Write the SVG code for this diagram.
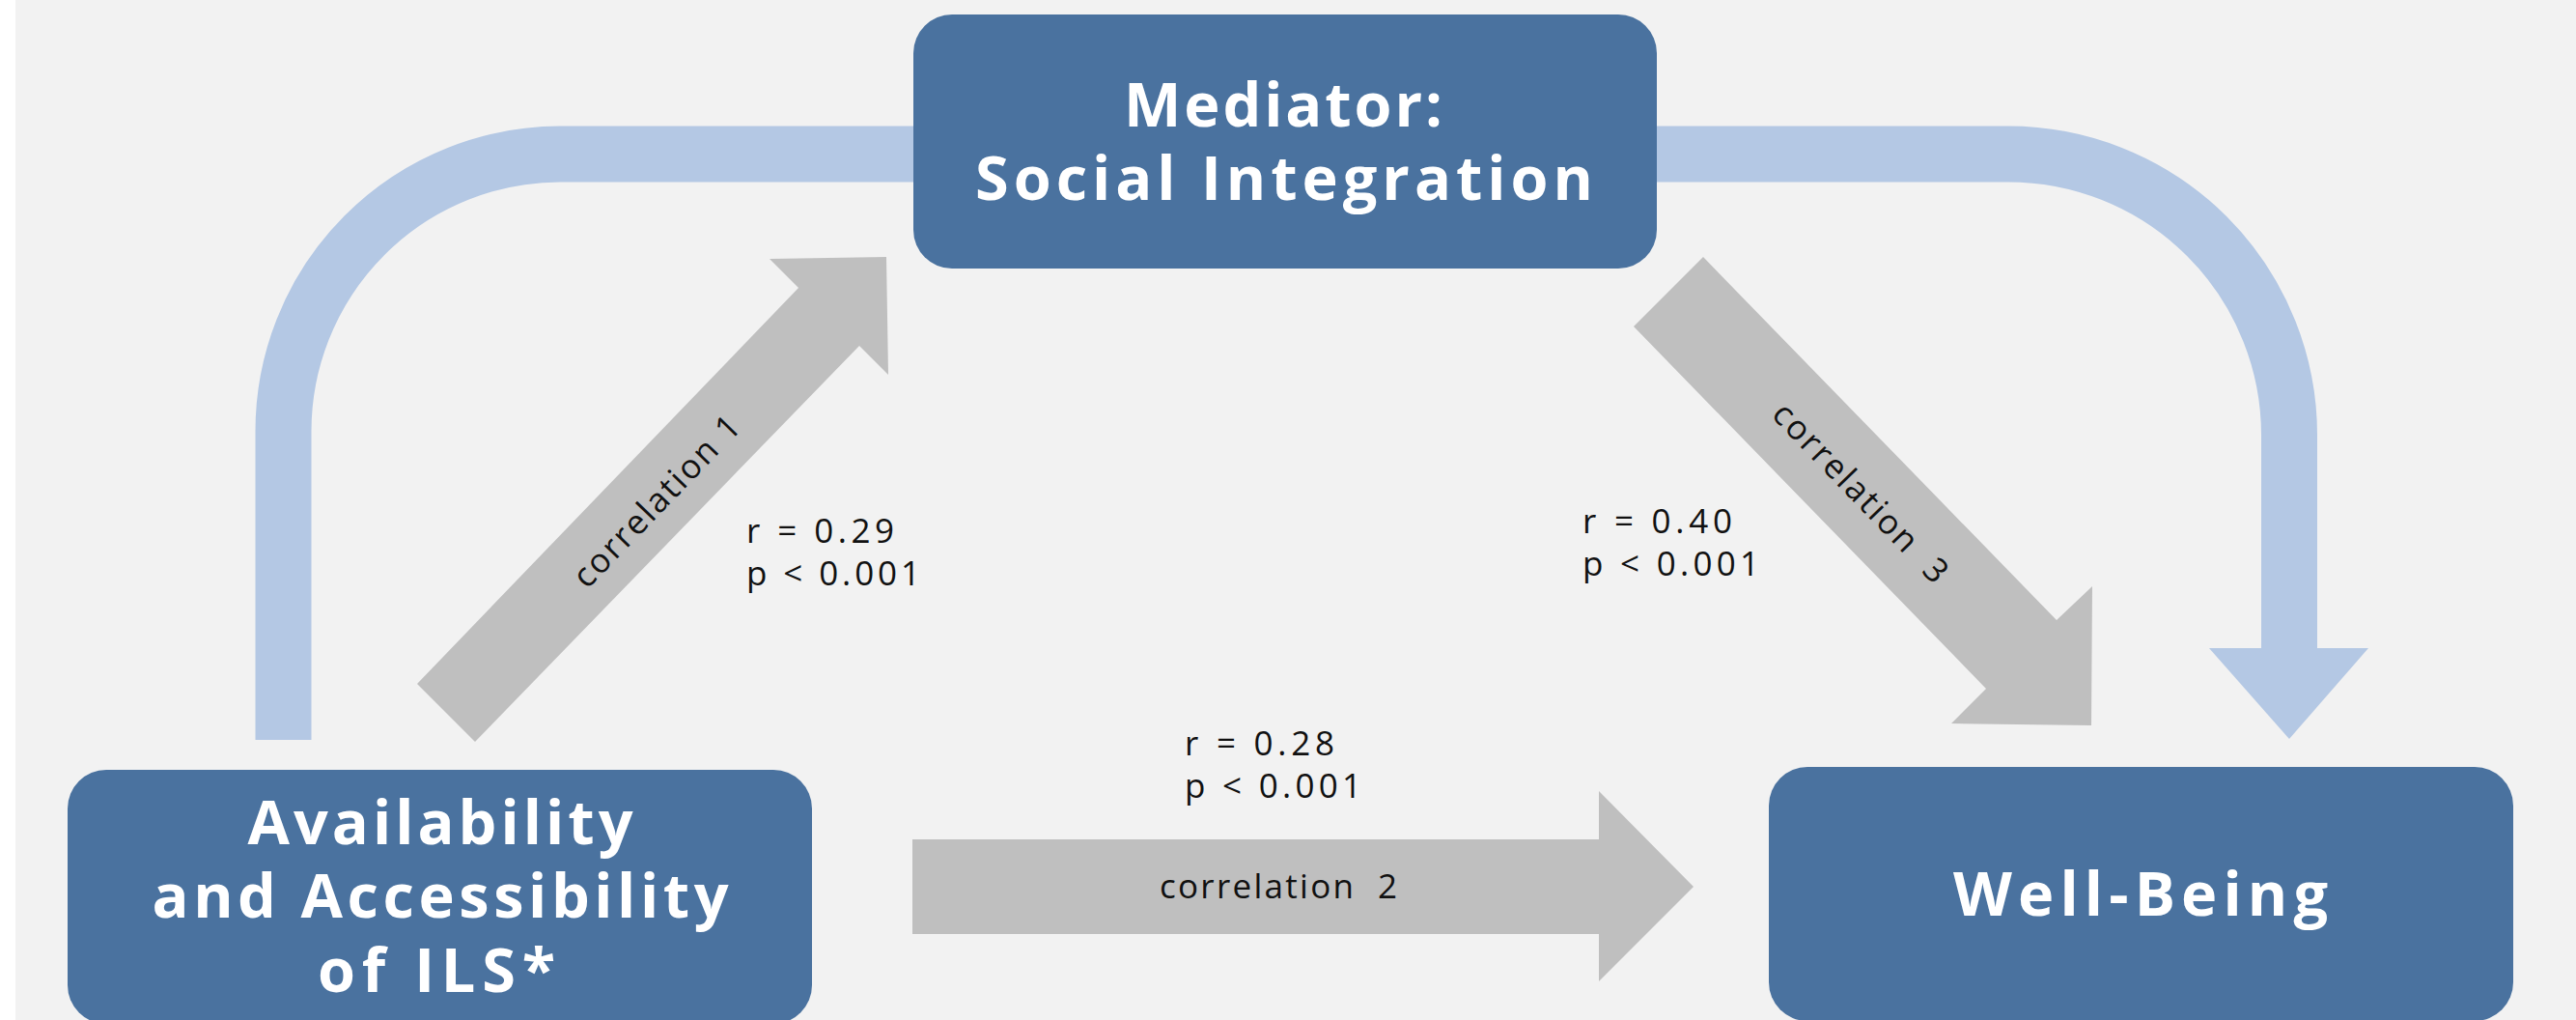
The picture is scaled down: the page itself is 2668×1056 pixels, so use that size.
<svg xmlns="http://www.w3.org/2000/svg" width="2668" height="1056" viewBox="0 0 2668 1056">
<style>
.box{fill:#4a729f}
.title{font-family:"Open Sans","Liberation Sans",sans-serif;font-weight:700;font-size:63px;fill:#ffffff;text-anchor:middle}
.flow{fill:none;stroke:#b4c8e4;stroke-width:58;stroke-linecap:butt}
.head{fill:#b4c8e4}
.gray{fill:#bfbfbf}
.lbl{font-family:"Open Sans","Liberation Sans",sans-serif;font-size:35px;fill:#111111}
.mid{text-anchor:middle}
</style>
<rect x="0" y="0" width="2668" height="1056" fill="#ffffff"/>
<rect x="16" y="0" width="2652" height="1056" fill="#f2f2f2"/>
<g id="connectors">
<path class="flow" d="M293.5 766 L293.5 447 A287 287 0 0 1 580 159.5 L960 159.5"/>
<path class="flow" d="M1700 159.5 L2080 159.5 A291 291 0 0 1 2371 450 L2371 672"/>
<polygon class="head" points="2288,671 2453,671 2371,765"/>
<polygon class="gray" points="432,708 827,298 797,268 918,266 920,388 890,358 492,768"/>
<polygon class="gray" points="1764,266 2130,642 2167,607 2166,751 2021,749 2057,713 1692,338"/>
<polygon class="gray" points="945,869 1656,869 1656,819 1754,918 1656,1016 1656,967 945,967"/>
<text class="lbl mid" transform="translate(680,519) rotate(-46)" x="0" y="12" textLength="232" lengthAdjust="spacing">correlation 1</text>
<text class="lbl mid" x="1324" y="930" textLength="246" lengthAdjust="spacing" xml:space="preserve">correlation  2</text>
<text class="lbl mid" transform="translate(1927,510) rotate(46)" x="0" y="12" textLength="244" lengthAdjust="spacing" xml:space="preserve">correlation  3</text>
<text class="lbl" x="773" y="562" textLength="153" lengthAdjust="spacing">r = 0.29</text>
<text class="lbl" x="773" y="606" textLength="180" lengthAdjust="spacing">p &lt; 0.001</text>
<text class="lbl" x="1639" y="552" textLength="155" lengthAdjust="spacing">r = 0.40</text>
<text class="lbl" x="1639" y="596" textLength="183" lengthAdjust="spacing">p &lt; 0.001</text>
<text class="lbl" x="1227" y="782" textLength="155" lengthAdjust="spacing">r = 0.28</text>
<text class="lbl" x="1227" y="826" textLength="183" lengthAdjust="spacing">p &lt; 0.001</text>
</g>
<g id="mediator">
<rect class="box" x="946" y="15" width="770" height="263" rx="40" ry="40"/>
<text class="title" x="1329" y="131" textLength="330" lengthAdjust="spacing">Mediator:</text>
<text class="title" x="1330" y="207" textLength="640" lengthAdjust="spacing">Social Integration</text>
</g>
<g id="availability">
<rect class="box" x="70" y="797" width="771" height="263" rx="40" ry="40"/>
<text class="title" x="456" y="874" textLength="399" lengthAdjust="spacing">Availability</text>
<text class="title" x="456" y="950" textLength="597" lengthAdjust="spacing">and Accessibility</text>
<text class="title" x="452" y="1027" textLength="246" lengthAdjust="spacing">of ILS*</text>
</g>
<g id="wellbeing">
<rect class="box" x="1832" y="794" width="771" height="263" rx="40" ry="40"/>
<text class="title" x="2217" y="948" textLength="388" lengthAdjust="spacing">Well-Being</text>
</g>
</svg>
